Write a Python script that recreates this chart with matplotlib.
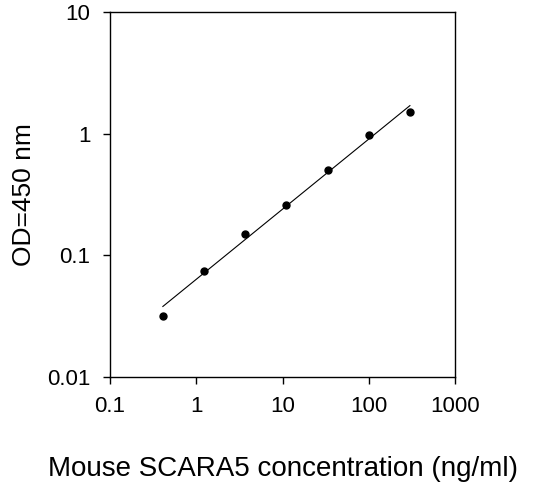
import matplotlib
matplotlib.use("Agg")
import matplotlib.pyplot as plt
from matplotlib.ticker import FixedLocator, FixedFormatter, NullLocator

plt.rcParams['font.family'] = ['Liberation Sans', 'DejaVu Sans']

# standard points
conc = [0.41, 1.23, 3.7, 11.1, 33.3, 100, 300]
od = [0.032, 0.075, 0.15, 0.26, 0.50, 0.98, 1.5]
# fitted curve
fit_x = [0.41, 300]
fit_y = [0.038, 1.7]

xticks = [0.1, 1, 10, 100, 1000]
xlabels = ["0.1", "1", "10", "100", "1000"]
yticks = [0.01, 0.1, 1, 10]
ylabels = ["0.01", "0.1", "1", "10"]

fig = plt.figure(figsize=(5.57, 4.94), dpi=100)
ax = fig.add_axes([110 / 557, 1 - 377 / 494, 345 / 557, 365 / 494])
ax.set_xscale('log')
ax.set_yscale('log')
ax.set_xlim(0.1, 1000)
ax.set_ylim(0.01, 10)

ax.plot(fit_x, fit_y, color='black', lw=0.8)
ax.plot(conc, od, 'o', color='black', ms=5)

ax.xaxis.set_major_locator(FixedLocator(xticks))
ax.xaxis.set_major_formatter(FixedFormatter(xlabels))
ax.yaxis.set_major_locator(FixedLocator(yticks))
ax.yaxis.set_major_formatter(FixedFormatter(ylabels))
ax.xaxis.set_minor_locator(NullLocator())
ax.yaxis.set_minor_locator(NullLocator())
ax.tick_params(direction='out', length=5, width=1, labelsize=16, pad=9)
for s in ax.spines.values():
    s.set_linewidth(1)

ax.set_xlabel("Mouse SCARA5 concentration (ng/ml)", fontsize=20, labelpad=28)
ax.set_ylabel("OD=450 nm", fontsize=19, labelpad=8)

fig.savefig("out.png", dpi=100)
